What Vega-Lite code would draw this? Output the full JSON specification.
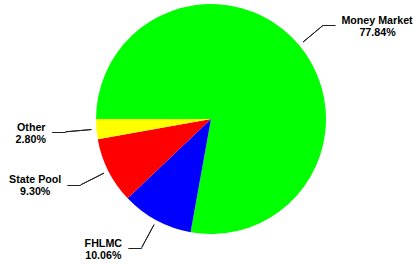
{
  "$schema": "https://vega.github.io/schema/vega-lite/v6.json",
  "width": 406,
  "height": 238,
  "autosize": "none",
  "padding": {"left": 8, "top": 0, "right": 0, "bottom": 26},
  "background": "white",
  "config": {"view": {"stroke": null}},
  "data": {"values": [
    {"label": "Money Market", "share": 0.7784},
    {"label": "FHLMC", "share": 0.1006},
    {"label": "State Pool", "share": 0.0930},
    {"label": "Other", "share": 0.0280}
  ]},
  "encoding": {
    "theta": {"field": "share", "type": "quantitative", "stack": true, "scale": {"range": [4.71238898, 10.99557429]}},
    "order": {"field": "share", "type": "quantitative", "sort": "descending"}
  },
  "layer": [
    {
      "mark": {"type": "arc", "outerRadius": 115},
      "encoding": {
        "color": {"field": "label", "type": "nominal", "legend": null,
          "scale": {"domain": ["Money Market", "FHLMC", "State Pool", "Other"], "range": ["#00ff00", "#0000ff", "#ff0000", "#ffff00"]}}
      }
    },
    {
      "transform": [
        {"stack": "share", "groupby": [], "sort": [{"field": "share", "order": "descending"}], "as": ["s0", "s1"]}
      ],
      "mark": {"type": "arc", "innerRadius": 120, "outerRadius": 146, "padAngle": 3.2, "thetaOffset": 1, "theta2Offset": -1, "filled": false, "stroke": "#222222", "strokeWidth": 1},
      "encoding": {
        "theta": {"field": "s0", "type": "quantitative", "scale": {"range": [4.71238898, 10.99557429]}},
        "theta2": {"field": "s1"},
        "detail": {"field": "label", "type": "nominal"}
      }
    },
    {
      "mark": {"type": "text", "radius": 146, "align": "left", "baseline": "middle", "font": "Liberation Sans", "fontSize": 12.5, "color": "#222222"},
      "encoding": {"detail": {"field": "label", "type": "nominal"}, "text": {"condition": {"test": "datum.label === 'Money Market'", "value": "—"}, "value": ""}}
    },
    {
      "mark": {"type": "text", "radius": 146, "align": "right", "baseline": "middle", "font": "Liberation Sans", "fontSize": 13.5, "color": "#222222"},
      "encoding": {"detail": {"field": "label", "type": "nominal"}, "text": {"condition": {"test": "datum.label !== 'Money Market'", "value": "—"}, "value": ""}}
    },
    {
      "mark": {"type": "text", "radius": 146, "dx": 54, "dy": -1.5, "align": "center", "baseline": "alphabetic", "font": "Liberation Sans", "fontWeight": "bold", "fontSize": 10.7, "color": "#000000"},
      "encoding": {"detail": {"field": "label", "type": "nominal"}, "text": {"condition": {"test": "datum.label === 'Money Market'", "field": "label", "type": "nominal"}, "value": ""}}
    },
    {
      "mark": {"type": "text", "radius": 146, "dx": 54.5, "dy": 11, "align": "center", "baseline": "alphabetic", "font": "Liberation Sans", "fontWeight": "bold", "fontSize": 10.7, "color": "#000000"},
      "encoding": {"detail": {"field": "label", "type": "nominal"}, "text": {"condition": {"test": "datum.label === 'Money Market'", "field": "share", "type": "quantitative", "format": ".2%"}, "value": ""}}
    },
    {
      "mark": {"type": "text", "radius": 146, "dx": -34.3, "dy": -0.8, "align": "center", "baseline": "alphabetic", "font": "Liberation Sans", "fontWeight": "bold", "fontSize": 10.7, "color": "#000000"},
      "encoding": {"detail": {"field": "label", "type": "nominal"}, "text": {"condition": {"test": "datum.label === 'Other'", "field": "label", "type": "nominal"}, "value": ""}}
    },
    {
      "mark": {"type": "text", "radius": 146, "dx": -34.8, "dy": 11, "align": "center", "baseline": "alphabetic", "font": "Liberation Sans", "fontWeight": "bold", "fontSize": 10.7, "color": "#000000"},
      "encoding": {"detail": {"field": "label", "type": "nominal"}, "text": {"condition": {"test": "datum.label === 'Other'", "field": "share", "type": "quantitative", "format": ".2%"}, "value": ""}}
    },
    {
      "mark": {"type": "text", "radius": 146, "dx": -45.5, "dy": -1.5, "align": "center", "baseline": "alphabetic", "font": "Liberation Sans", "fontWeight": "bold", "fontSize": 10.7, "color": "#000000"},
      "encoding": {"detail": {"field": "label", "type": "nominal"}, "text": {"condition": {"test": "datum.label === 'State Pool'", "field": "label", "type": "nominal"}, "value": ""}}
    },
    {
      "mark": {"type": "text", "radius": 146, "dx": -45.5, "dy": 10.5, "align": "center", "baseline": "alphabetic", "font": "Liberation Sans", "fontWeight": "bold", "fontSize": 10.7, "color": "#000000"},
      "encoding": {"detail": {"field": "label", "type": "nominal"}, "text": {"condition": {"test": "datum.label === 'State Pool'", "field": "share", "type": "quantitative", "format": ".2%"}, "value": ""}}
    },
    {
      "mark": {"type": "text", "radius": 146, "dx": -38.4, "dy": -1, "align": "center", "baseline": "alphabetic", "font": "Liberation Sans", "fontWeight": "bold", "fontSize": 10.7, "color": "#000000"},
      "encoding": {"detail": {"field": "label", "type": "nominal"}, "text": {"condition": {"test": "datum.label === 'FHLMC'", "field": "label", "type": "nominal"}, "value": ""}}
    },
    {
      "mark": {"type": "text", "radius": 146, "dx": -38.4, "dy": 11, "align": "center", "baseline": "alphabetic", "font": "Liberation Sans", "fontWeight": "bold", "fontSize": 10.7, "color": "#000000"},
      "encoding": {"detail": {"field": "label", "type": "nominal"}, "text": {"condition": {"test": "datum.label === 'FHLMC'", "field": "share", "type": "quantitative", "format": ".2%"}, "value": ""}}
    }
  ]
}
